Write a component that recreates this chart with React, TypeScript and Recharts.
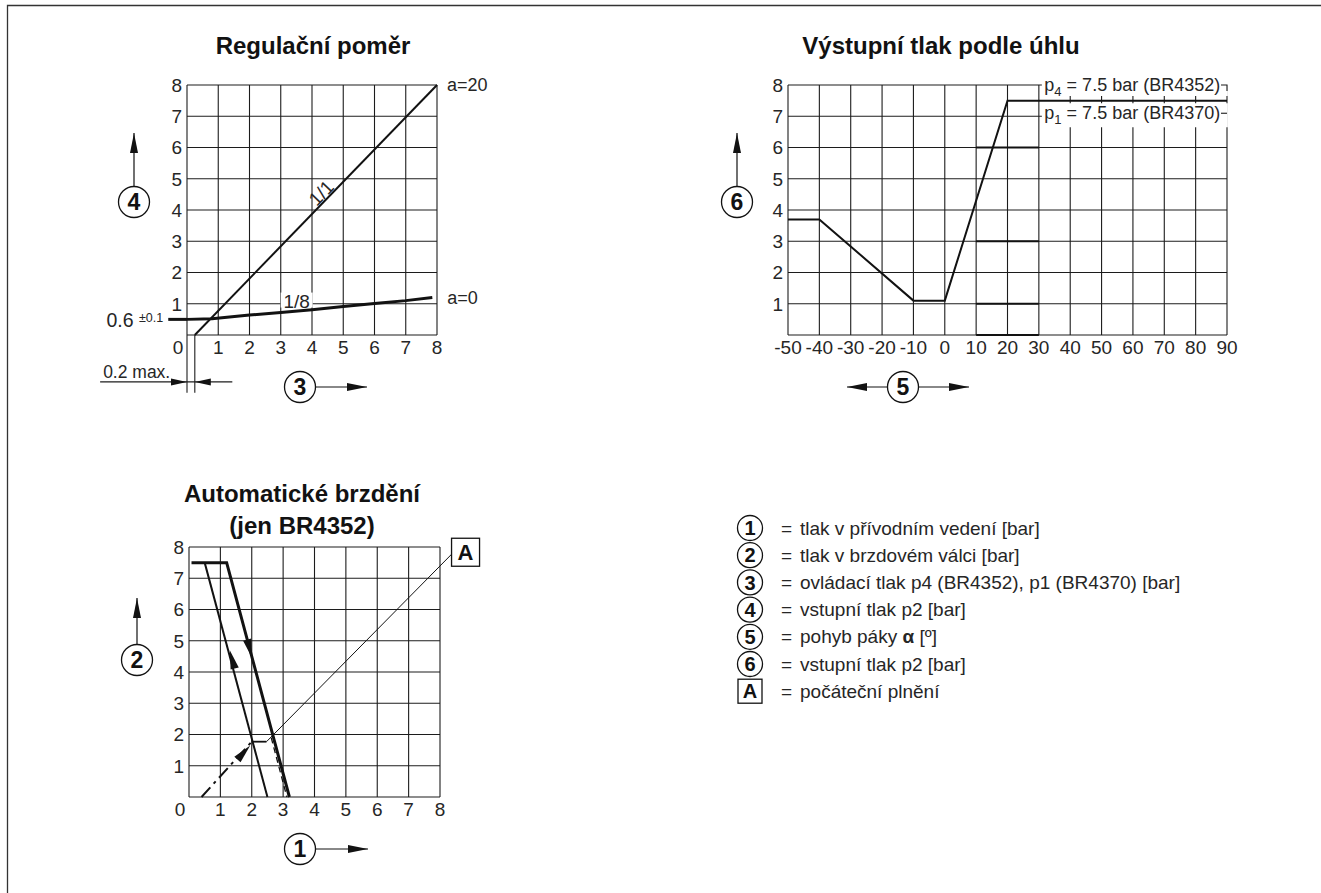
import React from 'react';
import { LineChart, Line, XAxis, YAxis, ReferenceLine, ReferenceDot } from 'recharts';

// ---------------- data ----------------
const unitTicks = [0, 1, 2, 3, 4, 5, 6, 7, 8];

// Regulační poměr
const ratioOneX = [0.25, 8];
const ratioOneY = [0, 8];
const ratioEighthX = [0, 0.8, 2, 3, 4, 5, 6, 7, 7.85];
const ratioEighthY = [0.5, 0.52, 0.64, 0.72, 0.81, 0.91, 1.01, 1.1, 1.2];
const ratioLeadX = [-0.6, 0];
const ratioBaseY = 0.5;
const ratioDimLevel = -1.5;
const ratioDimDepth = -1.85;
const ratioDimLeft = -2.78;
const ratioDimRight = 1.45;
const ratioLabels = ['1/1', '1/8', 'a=20', 'a=0', '0.6', '±0.1', '0.2 max.'];

// Výstupní tlak podle úhlu
const angleXTicks = [-50, -40, -30, -20, -10, 0, 10, 20, 30, 40, 50, 60, 70, 80, 90];
const angleYTicks = [0, 1, 2, 3, 4, 5, 6, 7, 8];
const angleX = [-50, -40, -10, 0, 20, 90];
const angleY = [3.7, 3.7, 1.1, 1.1, 7.5, 7.5];
const angleBoldRows = [0, 1, 3, 6];
const angleBoldRange = [10, 30];
const angleP4 = ['p', '4', ' = 7.5 bar (BR4352)'];
const angleP1 = ['p', '1', ' = 7.5 bar (BR4370)'];

// Automatické brzdění
const brakeReleaseX = [0.08, 1.2, 3.2];
const brakeReleaseY = [7.5, 7.5, 0];
const brakeApplyX = [0.5, 2.5];
const brakeApplyY = [7.5, 0];
const brakeFillX = [0.4, 2.0];
const brakeFillY = [0, 1.77];
const brakeStepX = [2.0, 2.47];
const brakeStepY = [1.77, 1.77];
const brakeDashX = [2.62, 3.12];
const brakeDashY = [1.9, 0];
const brakeLeaderEnd = { x: 8.4, y: 7.8 };
const brakeArrows = [
  { at: [2.01, 4.45], from: [1.2, 7.5], to: [3.2, 0] },
  { at: [1.3, 4.7], from: [2.5, 0], to: [0.5, 7.5] },
  { at: [1.95, 1.65], from: [0.4, 0], to: [2.0, 1.77] },
];

// legend
const legendKeys = ['1', '2', '3', '4', '5', '6'];
const legendTexts = [
  'tlak v přívodním vedení [bar]',
  'tlak v brzdovém válci [bar]',
  'ovládací tlak p4 (BR4352), p1 (BR4370) [bar]',
  'vstupní tlak p2 [bar]',
  'pohyb páky ',
  'vstupní tlak p2 [bar]',
];
const legendA = 'počáteční plnění';
const titles = ['Regulační poměr', 'Výstupní tlak podle úhlu', 'Automatické brzdění', '(jen BR4352)'];

// ---------------- style ----------------
const FONT = '"Liberation Sans", Arial, Helvetica, sans-serif';
const INK = '#121212';
const GRID = '#1c1c1c';
const TXT = '#262626';
const TICK_FS = 19;

const pts = (xs: number[], ys: number[]) => xs.map((x, i) => ({ x, y: ys[i] }));

const xTick = (zeroShift: number) => (p: any) => (
  <text
    x={p.x + (p.payload.value === 0 ? zeroShift : 0)}
    y={p.y}
    dy={15}
    textAnchor="middle"
    fontSize={TICK_FS}
    fontFamily={FONT}
    fill={TXT}
  >
    {p.payload.value}
  </text>
);

const yTick = (p: any) =>
  p.payload.value === 0 ? (
    <g />
  ) : (
    <text x={p.x} y={p.y} dy={6.8} textAnchor="end" fontSize={TICK_FS} fontFamily={FONT} fill={TXT}>
      {p.payload.value}
    </text>
  );

const arrowHead = (angle: number, len = 18, half = 4) => (p: any) => (
  <polygon
    points={`0,0 ${-len},${-half} ${-len},${half}`}
    transform={`translate(${p.cx},${p.cy}) rotate(${angle})`}
    fill={INK}
  />
);

const angleOf = (from: number[], to: number[]) =>
  (Math.atan2(-(to[1] - from[1]), to[0] - from[0]) * 180) / Math.PI;

const textShape = (
  label: React.ReactNode,
  dx: number,
  dy: number,
  opts: { anchor?: string; size?: number; rotate?: number; bg?: number[] } = {}
) => (p: any) => (
  <g transform={`translate(${p.cx},${p.cy})${opts.rotate ? ` rotate(${opts.rotate})` : ''}`}>
    {opts.bg && <rect x={opts.bg[0]} y={opts.bg[1]} width={opts.bg[2]} height={opts.bg[3]} fill="#fff" />}
    <text
      x={dx}
      y={dy}
      textAnchor={(opts.anchor as any) || 'start'}
      fontSize={opts.size || 18}
      fontFamily={FONT}
      fill={TXT}
    >
      {label}
    </text>
  </g>
);

// ---------------- charts ----------------
function RatioChart() {
  return (
    <div style={{ position: 'absolute', left: 0, top: 0 }}>
      <LineChart width={520} height={420} margin={{ top: 85, right: 83, bottom: 55, left: 157 }}>
        <XAxis type="number" dataKey="x" domain={[0, 8]} ticks={unitTicks} interval={0} axisLine={false} tickLine={false} tickSize={0} tickMargin={4} height={30} tick={xTick(-9)} />
        <YAxis type="number" dataKey="y" domain={[0, 8]} ticks={unitTicks} interval={0} axisLine={false} tickLine={false} tickSize={0} tickMargin={5} width={30} tick={yTick} />
        {unitTicks.map((v) => (
          <ReferenceLine key={'h' + v} y={v} stroke={GRID} strokeWidth={1.1} />
        ))}
        {unitTicks.map((v) => (
          <ReferenceLine key={'v' + v} x={v} stroke={GRID} strokeWidth={1.1} />
        ))}
        {/* dimension "0.2 max." */}
        <ReferenceLine ifOverflow="visible" segment={[{ x: 0, y: 0 }, { x: 0, y: ratioDimDepth }]} stroke={GRID} strokeWidth={1.1} />
        <ReferenceLine ifOverflow="visible" segment={[{ x: ratioOneX[0], y: 0 }, { x: ratioOneX[0], y: ratioDimDepth }]} stroke={GRID} strokeWidth={1.1} />
        <ReferenceLine ifOverflow="visible" segment={[{ x: ratioDimLeft, y: ratioDimLevel }, { x: ratioDimRight, y: ratioDimLevel }]} stroke={GRID} strokeWidth={1.1} />
        <ReferenceDot ifOverflow="visible" x={0} y={ratioDimLevel} shape={arrowHead(0, 16, 3.5)} />
        <ReferenceDot ifOverflow="visible" x={ratioOneX[0]} y={ratioDimLevel} shape={arrowHead(180, 16, 3.5)} />
        <ReferenceDot ifOverflow="visible" x={ratioDimLeft} y={ratioDimLevel} shape={textShape(ratioLabels[6], 3, -4, { size: 17.5 })} />
        {/* 0.6 baseline lead-in */}
        <ReferenceLine ifOverflow="visible" segment={[{ x: ratioLeadX[0], y: ratioBaseY }, { x: ratioLeadX[1], y: ratioBaseY }]} stroke={INK} strokeWidth={3} />
        <ReferenceDot
          ifOverflow="visible"
          x={ratioLeadX[0]}
          y={ratioBaseY}
          shape={textShape(
            <>
              {ratioLabels[4] + ' '}
              <tspan fontSize={12.5} dy={-5}>{ratioLabels[5]}</tspan>
            </>,
            -5,
            8,
            { anchor: 'end', size: 19.5 }
          )}
        />
        <ReferenceDot x={3.51} y={1.07} shape={textShape(ratioLabels[1], 0, 6.5, { anchor: 'middle', size: 19, bg: [-16, -9, 32, 15] })} />
        <Line data={pts(ratioOneX, ratioOneY)} dataKey="y" type="linear" stroke={INK} strokeWidth={2} dot={false} activeDot={false} isAnimationActive={false} />
        <Line data={pts(ratioEighthX, ratioEighthY)} dataKey="y" type="linear" stroke={INK} strokeWidth={3} dot={false} activeDot={false} isAnimationActive={false} />
        <ReferenceDot x={4.31} y={4.53} shape={textShape(ratioLabels[0], 0, 6, { anchor: 'middle', size: 19, rotate: -46 })} />
        <ReferenceDot ifOverflow="visible" x={8} y={8} shape={textShape(ratioLabels[2], 10, 6)} />
        <ReferenceDot ifOverflow="visible" x={7.85} y={1.2} shape={textShape(ratioLabels[3], 15, 6)} />
      </LineChart>
    </div>
  );
}

function AngleChart() {
  const p4 = (
    <>
      {angleP4[0]}
      <tspan fontSize={13} dy={5}>{angleP4[1]}</tspan>
      <tspan dy={-5}>{angleP4[2]}</tspan>
    </>
  );
  const p1 = (
    <>
      {angleP1[0]}
      <tspan fontSize={13} dy={5}>{angleP1[1]}</tspan>
      <tspan dy={-5}>{angleP1[2]}</tspan>
    </>
  );
  return (
    <div style={{ position: 'absolute', left: 620, top: 0 }}>
      <LineChart width={700} height={420} margin={{ top: 85, right: 93, bottom: 55, left: 138 }}>
        <XAxis type="number" dataKey="x" domain={[-50, 90]} ticks={angleXTicks} interval={0} axisLine={false} tickLine={false} tickSize={0} tickMargin={4} height={30} tick={xTick(0)} />
        <YAxis type="number" dataKey="y" domain={[0, 8]} ticks={angleYTicks} interval={0} axisLine={false} tickLine={false} tickSize={0} tickMargin={5} width={30} tick={yTick} />
        {angleYTicks.map((v) => (
          <ReferenceLine key={'h' + v} y={v} stroke={GRID} strokeWidth={1.1} />
        ))}
        {angleXTicks.map((v) => (
          <ReferenceLine key={'v' + v} x={v} stroke={GRID} strokeWidth={1.1} />
        ))}
        {angleBoldRows.map((v) => (
          <ReferenceLine key={'b' + v} segment={[{ x: angleBoldRange[0], y: v }, { x: angleBoldRange[1], y: v }]} stroke={INK} strokeWidth={2.2} />
        ))}
        <ReferenceDot x={30} y={8} shape={textShape(p4, 5.5, 6, { bg: [3, -11, 186, 22] })} />
        <ReferenceDot x={30} y={7} shape={textShape(p1, 5.5, 3, { bg: [3, -13, 186, 24] })} />
        <ReferenceDot
          x={90}
          y={8}
          shape={(p: any) => <path d={`M${p.cx - 6},${p.cy} H${p.cx} V${p.cy + 6}`} fill="none" stroke={GRID} strokeWidth={1.1} />}
        />
        <ReferenceDot
          x={90}
          y={7}
          shape={(p: any) => <path d={`M${p.cx - 6},${p.cy - 3} H${p.cx}`} fill="none" stroke={GRID} strokeWidth={1.1} />}
        />
        <Line data={pts(angleX, angleY)} dataKey="y" type="linear" stroke={INK} strokeWidth={2} dot={false} activeDot={false} isAnimationActive={false} />
      </LineChart>
    </div>
  );
}

function BrakeChart() {
  return (
    <div style={{ position: 'absolute', left: 0, top: 440 }}>
      <LineChart width={520} height={420} margin={{ top: 107, right: 80, bottom: 33, left: 159 }}>
        <XAxis type="number" dataKey="x" domain={[0, 8]} ticks={unitTicks} interval={0} axisLine={false} tickLine={false} tickSize={0} tickMargin={4} height={30} tick={xTick(-9)} />
        <YAxis type="number" dataKey="y" domain={[0, 8]} ticks={unitTicks} interval={0} axisLine={false} tickLine={false} tickSize={0} tickMargin={5} width={30} tick={yTick} />
        {unitTicks.map((v) => (
          <ReferenceLine key={'h' + v} y={v} stroke={GRID} strokeWidth={1.1} />
        ))}
        {unitTicks.map((v) => (
          <ReferenceLine key={'v' + v} x={v} stroke={GRID} strokeWidth={1.1} />
        ))}
        <ReferenceLine
          ifOverflow="visible"
          segment={[{ x: brakeStepX[1], y: brakeStepY[1] }, brakeLeaderEnd]}
          stroke={INK}
          strokeWidth={1}
        />
        <ReferenceDot
          ifOverflow="visible"
          x={brakeLeaderEnd.x}
          y={brakeLeaderEnd.y}
          shape={(p: any) => (
            <g>
              <rect x={p.cx - 1} y={p.cy - 15} width={28} height={28} fill="#fff" stroke={INK} strokeWidth={1.3} />
              <text x={p.cx + 13} y={p.cy + 6.5} textAnchor="middle" fontSize={22} fontWeight="bold" fontFamily={FONT} fill={INK}>
                A
              </text>
            </g>
          )}
        />
        <Line data={pts(brakeReleaseX, brakeReleaseY)} dataKey="y" type="linear" stroke={INK} strokeWidth={3} dot={false} activeDot={false} isAnimationActive={false} />
        <Line data={pts(brakeApplyX, brakeApplyY)} dataKey="y" type="linear" stroke={INK} strokeWidth={2} dot={false} activeDot={false} isAnimationActive={false} />
        <Line data={pts(brakeFillX, brakeFillY)} dataKey="y" type="linear" stroke={INK} strokeWidth={2} strokeDasharray="13 5 3 5" dot={false} activeDot={false} isAnimationActive={false} />
        <Line data={pts(brakeStepX, brakeStepY)} dataKey="y" type="linear" stroke={INK} strokeWidth={1.8} dot={false} activeDot={false} isAnimationActive={false} />
        <Line data={pts(brakeDashX, brakeDashY)} dataKey="y" type="linear" stroke={INK} strokeWidth={1.3} strokeDasharray="6 4" dot={false} activeDot={false} isAnimationActive={false} />
        {brakeArrows.map((a, i) => (
          <ReferenceDot key={'a' + i} x={a.at[0]} y={a.at[1]} shape={arrowHead(angleOf(a.from, a.to), 19, 4.2)} />
        ))}
      </LineChart>
    </div>
  );
}

// ---------------- decorations ----------------
const Circled = ({ x, y, n, r = 15.5, size = 23 }: { x: number; y: number; n: string; r?: number; size?: number }) => (
  <g>
    <circle cx={x} cy={y} r={r} fill="#fff" stroke={INK} strokeWidth={1.3} />
    <text x={x} y={y + size * 0.36} textAnchor="middle" fontSize={size} fontWeight="bold" fontFamily={FONT} fill={INK}>
      {n}
    </text>
  </g>
);

const Arrow = ({ x1, y1, x2, y2 }: { x1: number; y1: number; x2: number; y2: number }) => {
  const ang = (Math.atan2(y2 - y1, x2 - x1) * 180) / Math.PI;
  return (
    <g>
      <line x1={x1} y1={y1} x2={x2} y2={y2} stroke={INK} strokeWidth={1.2} />
      <polygon points="0,0 -20,-4 -20,4" transform={`translate(${x2},${y2}) rotate(${ang})`} fill={INK} />
    </g>
  );
};

function Overlay() {
  const rowY = (i: number) => 528 + i * 27.2;
  return (
    <svg width={1321} height={893} style={{ position: 'absolute', left: 0, top: 0, pointerEvents: 'none' }}>
      <path d="M7.5,893 V5.5 H1321" fill="none" stroke="#333" strokeWidth={1.3} />
      <g fontFamily={FONT} fontWeight="bold" fontSize={24} fill={INK} textAnchor="middle">
        <text x={313} y={54}>{titles[0]}</text>
        <text x={941} y={54}>{titles[1]}</text>
        <text x={302} y={502}>{titles[2]}</text>
        <text x={302} y={534}>{titles[3]}</text>
      </g>
      {/* axis markers */}
      <Arrow x1={134} y1={187} x2={134} y2={133} />
      <Circled x={134} y={202} n="4" />
      <Arrow x1={315} y1={387} x2={367} y2={387} />
      <Circled x={300} y={387} n="3" />
      <Arrow x1={737} y1={187} x2={737} y2={133} />
      <Circled x={737} y={202} n="6" />
      <Arrow x1={888} y1={387} x2={847} y2={387} />
      <Arrow x1={918} y1={387} x2={969} y2={387} />
      <Circled x={903} y={387} n="5" />
      <Arrow x1={137} y1={645} x2={137} y2={598} />
      <Circled x={137} y={660} n="2" />
      <Arrow x1={315} y1={849} x2={368} y2={849} />
      <Circled x={300} y={849} n="1" />
      {/* legend */}
      {legendKeys.map((k, i) => (
        <g key={k}>
          <Circled x={750} y={rowY(i)} n={k} r={12.5} size={20} />
          <text x={781} y={rowY(i) + 6.5} fontSize={19} fontFamily={FONT} fill={TXT}>
            =
          </text>
          <text x={800} y={rowY(i) + 6.5} fontSize={19} fontFamily={FONT} fill={TXT}>
            {legendTexts[i]}
            {i === 4 && (
              <>
                <tspan fontWeight="bold">α</tspan> [º]
              </>
            )}
          </text>
        </g>
      ))}
      <rect x={738} y={rowY(6) - 12} width={24} height={24} fill="#fff" stroke={INK} strokeWidth={1.3} />
      <text x={750} y={rowY(6) + 7} textAnchor="middle" fontSize={20} fontWeight="bold" fontFamily={FONT} fill={INK}>
        A
      </text>
      <text x={781} y={rowY(6) + 6.5} fontSize={19} fontFamily={FONT} fill={TXT}>
        =
      </text>
      <text x={800} y={rowY(6) + 6.5} fontSize={19} fontFamily={FONT} fill={TXT}>
        {legendA}
      </text>
    </svg>
  );
}

export default function App() {
  return (
    <div style={{ position: 'absolute', left: 0, top: 0, width: 1321, height: 893, background: '#fff', overflow: 'hidden' }}>
      <RatioChart />
      <AngleChart />
      <BrakeChart />
      <Overlay />
    </div>
  );
}
